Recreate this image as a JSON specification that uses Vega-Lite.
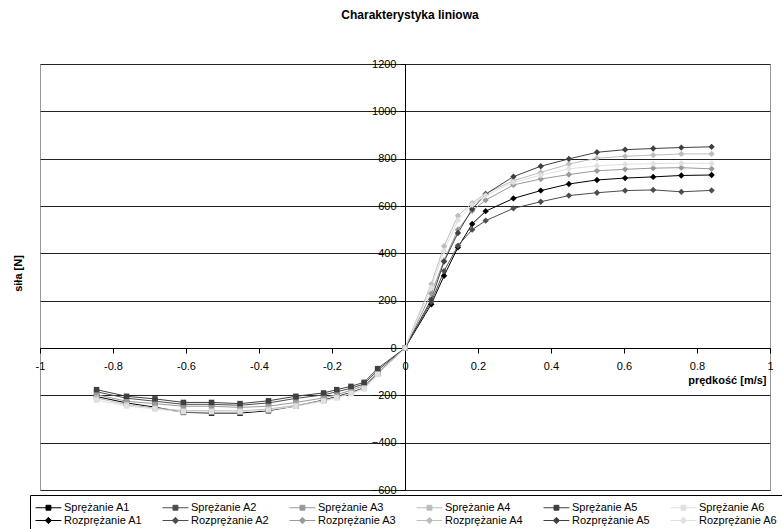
{
  "$schema": "https://vega.github.io/schema/vega-lite/v6.json",
  "width": 730,
  "height": 426,
  "autosize": {"type": "none"},
  "padding": {"left": 40, "top": 64, "right": 12, "bottom": 39},
  "background": "white",
  "title": {"text": "Charakterystyka liniowa", "font": "Liberation Sans", "fontSize": 12, "fontWeight": "bold", "color": "#000", "offset": 36, "dx": 5, "anchor": "middle"},
  "config": {
    "view": {"stroke": "#999", "strokeWidth": 1},
    "font": "Liberation Sans",
    "axis": {"labelFont": "Liberation Sans", "titleFont": "Liberation Sans", "labelColor": "#000", "titleColor": "#000"},
    "legend": {"labelFont": "Liberation Sans", "labelColor": "#000"}
  },
  "data": {"values": [
    {"s":"Sprężanie A1","v":-0.845,"F":-205},{"s":"Sprężanie A1","v":-0.763,"F":-232},{"s":"Sprężanie A1","v":-0.685,"F":-250},{"s":"Sprężanie A1","v":-0.607,"F":-272},{"s":"Sprężanie A1","v":-0.53,"F":-275},{"s":"Sprężanie A1","v":-0.452,"F":-275},{"s":"Sprężanie A1","v":-0.374,"F":-265},{"s":"Sprężanie A1","v":-0.299,"F":-245},{"s":"Sprężanie A1","v":-0.223,"F":-220},{"s":"Sprężanie A1","v":-0.187,"F":-205},{"s":"Sprężanie A1","v":-0.148,"F":-188},{"s":"Sprężanie A1","v":-0.112,"F":-168},{"s":"Sprężanie A1","v":-0.075,"F":-108},{"s":"Sprężanie A1","v":0,"F":0},
    {"s":"Sprężanie A2","v":-0.845,"F":-185},{"s":"Sprężanie A2","v":-0.763,"F":-212},{"s":"Sprężanie A2","v":-0.685,"F":-225},{"s":"Sprężanie A2","v":-0.607,"F":-238},{"s":"Sprężanie A2","v":-0.53,"F":-238},{"s":"Sprężanie A2","v":-0.452,"F":-242},{"s":"Sprężanie A2","v":-0.374,"F":-232},{"s":"Sprężanie A2","v":-0.299,"F":-213},{"s":"Sprężanie A2","v":-0.223,"F":-198},{"s":"Sprężanie A2","v":-0.187,"F":-185},{"s":"Sprężanie A2","v":-0.148,"F":-170},{"s":"Sprężanie A2","v":-0.112,"F":-152},{"s":"Sprężanie A2","v":-0.075,"F":-95},{"s":"Sprężanie A2","v":0,"F":0},
    {"s":"Sprężanie A3","v":-0.845,"F":-197},{"s":"Sprężanie A3","v":-0.763,"F":-225},{"s":"Sprężanie A3","v":-0.685,"F":-235},{"s":"Sprężanie A3","v":-0.607,"F":-246},{"s":"Sprężanie A3","v":-0.53,"F":-246},{"s":"Sprężanie A3","v":-0.452,"F":-251},{"s":"Sprężanie A3","v":-0.374,"F":-246},{"s":"Sprężanie A3","v":-0.299,"F":-230},{"s":"Sprężanie A3","v":-0.223,"F":-211},{"s":"Sprężanie A3","v":-0.187,"F":-197},{"s":"Sprężanie A3","v":-0.148,"F":-179},{"s":"Sprężanie A3","v":-0.112,"F":-159},{"s":"Sprężanie A3","v":-0.075,"F":-105},{"s":"Sprężanie A3","v":0,"F":0},
    {"s":"Sprężanie A4","v":-0.845,"F":-211},{"s":"Sprężanie A4","v":-0.763,"F":-239},{"s":"Sprężanie A4","v":-0.685,"F":-254},{"s":"Sprężanie A4","v":-0.607,"F":-265},{"s":"Sprężanie A4","v":-0.53,"F":-265},{"s":"Sprężanie A4","v":-0.452,"F":-266},{"s":"Sprężanie A4","v":-0.374,"F":-258},{"s":"Sprężanie A4","v":-0.299,"F":-242},{"s":"Sprężanie A4","v":-0.223,"F":-222},{"s":"Sprężanie A4","v":-0.187,"F":-208},{"s":"Sprężanie A4","v":-0.148,"F":-190},{"s":"Sprężanie A4","v":-0.112,"F":-170},{"s":"Sprężanie A4","v":-0.075,"F":-110},{"s":"Sprężanie A4","v":0,"F":0},
    {"s":"Sprężanie A5","v":-0.845,"F":-176},{"s":"Sprężanie A5","v":-0.763,"F":-204},{"s":"Sprężanie A5","v":-0.685,"F":-215},{"s":"Sprężanie A5","v":-0.607,"F":-230},{"s":"Sprężanie A5","v":-0.53,"F":-230},{"s":"Sprężanie A5","v":-0.452,"F":-235},{"s":"Sprężanie A5","v":-0.374,"F":-223},{"s":"Sprężanie A5","v":-0.299,"F":-204},{"s":"Sprężanie A5","v":-0.223,"F":-190},{"s":"Sprężanie A5","v":-0.187,"F":-176},{"s":"Sprężanie A5","v":-0.148,"F":-162},{"s":"Sprężanie A5","v":-0.112,"F":-145},{"s":"Sprężanie A5","v":-0.075,"F":-87},{"s":"Sprężanie A5","v":0,"F":0},
    {"s":"Sprężanie A6","v":-0.845,"F":-220},{"s":"Sprężanie A6","v":-0.763,"F":-245},{"s":"Sprężanie A6","v":-0.685,"F":-258},{"s":"Sprężanie A6","v":-0.607,"F":-270},{"s":"Sprężanie A6","v":-0.53,"F":-270},{"s":"Sprężanie A6","v":-0.452,"F":-270},{"s":"Sprężanie A6","v":-0.374,"F":-262},{"s":"Sprężanie A6","v":-0.299,"F":-246},{"s":"Sprężanie A6","v":-0.223,"F":-225},{"s":"Sprężanie A6","v":-0.187,"F":-211},{"s":"Sprężanie A6","v":-0.148,"F":-193},{"s":"Sprężanie A6","v":-0.112,"F":-173},{"s":"Sprężanie A6","v":-0.075,"F":-112},{"s":"Sprężanie A6","v":0,"F":0},
    {"s":"Rozprężanie A1","v":0,"F":0},{"s":"Rozprężanie A1","v":0.072,"F":185},{"s":"Rozprężanie A1","v":0.107,"F":305},{"s":"Rozprężanie A1","v":0.145,"F":425},{"s":"Rozprężanie A1","v":0.184,"F":524},{"s":"Rozprężanie A1","v":0.221,"F":578},{"s":"Rozprężanie A1","v":0.297,"F":632},{"s":"Rozprężanie A1","v":0.372,"F":665},{"s":"Rozprężanie A1","v":0.449,"F":693},{"s":"Rozprężanie A1","v":0.526,"F":710},{"s":"Rozprężanie A1","v":0.603,"F":718},{"s":"Rozprężanie A1","v":0.68,"F":723},{"s":"Rozprężanie A1","v":0.757,"F":729},{"s":"Rozprężanie A1","v":0.84,"F":731},
    {"s":"Rozprężanie A2","v":0,"F":0},{"s":"Rozprężanie A2","v":0.072,"F":195},{"s":"Rozprężanie A2","v":0.107,"F":325},{"s":"Rozprężanie A2","v":0.145,"F":432},{"s":"Rozprężanie A2","v":0.184,"F":500},{"s":"Rozprężanie A2","v":0.221,"F":538},{"s":"Rozprężanie A2","v":0.297,"F":590},{"s":"Rozprężanie A2","v":0.372,"F":618},{"s":"Rozprężanie A2","v":0.449,"F":644},{"s":"Rozprężanie A2","v":0.526,"F":656},{"s":"Rozprężanie A2","v":0.603,"F":665},{"s":"Rozprężanie A2","v":0.68,"F":668},{"s":"Rozprężanie A2","v":0.757,"F":660},{"s":"Rozprężanie A2","v":0.84,"F":666},
    {"s":"Rozprężanie A3","v":0,"F":0},{"s":"Rozprężanie A3","v":0.072,"F":230},{"s":"Rozprężanie A3","v":0.107,"F":370},{"s":"Rozprężanie A3","v":0.145,"F":500},{"s":"Rozprężanie A3","v":0.184,"F":580},{"s":"Rozprężanie A3","v":0.221,"F":625},{"s":"Rozprężanie A3","v":0.297,"F":689},{"s":"Rozprężanie A3","v":0.372,"F":714},{"s":"Rozprężanie A3","v":0.449,"F":733},{"s":"Rozprężanie A3","v":0.526,"F":749},{"s":"Rozprężanie A3","v":0.603,"F":755},{"s":"Rozprężanie A3","v":0.68,"F":760},{"s":"Rozprężanie A3","v":0.757,"F":762},{"s":"Rozprężanie A3","v":0.84,"F":757},
    {"s":"Rozprężanie A4","v":0,"F":0},{"s":"Rozprężanie A4","v":0.072,"F":270},{"s":"Rozprężanie A4","v":0.107,"F":430},{"s":"Rozprężanie A4","v":0.145,"F":559},{"s":"Rozprężanie A4","v":0.184,"F":612},{"s":"Rozprężanie A4","v":0.221,"F":653},{"s":"Rozprężanie A4","v":0.297,"F":707},{"s":"Rozprężanie A4","v":0.372,"F":742},{"s":"Rozprężanie A4","v":0.449,"F":777},{"s":"Rozprężanie A4","v":0.526,"F":802},{"s":"Rozprężanie A4","v":0.603,"F":810},{"s":"Rozprężanie A4","v":0.68,"F":815},{"s":"Rozprężanie A4","v":0.757,"F":820},{"s":"Rozprężanie A4","v":0.84,"F":820},
    {"s":"Rozprężanie A5","v":0,"F":0},{"s":"Rozprężanie A5","v":0.072,"F":205},{"s":"Rozprężanie A5","v":0.107,"F":365},{"s":"Rozprężanie A5","v":0.145,"F":486},{"s":"Rozprężanie A5","v":0.184,"F":587},{"s":"Rozprężanie A5","v":0.221,"F":650},{"s":"Rozprężanie A5","v":0.297,"F":724},{"s":"Rozprężanie A5","v":0.372,"F":768},{"s":"Rozprężanie A5","v":0.449,"F":799},{"s":"Rozprężanie A5","v":0.526,"F":827},{"s":"Rozprężanie A5","v":0.603,"F":838},{"s":"Rozprężanie A5","v":0.68,"F":843},{"s":"Rozprężanie A5","v":0.757,"F":847},{"s":"Rozprężanie A5","v":0.84,"F":850},
    {"s":"Rozprężanie A6","v":0,"F":0},{"s":"Rozprężanie A6","v":0.072,"F":255},{"s":"Rozprężanie A6","v":0.107,"F":410},{"s":"Rozprężanie A6","v":0.145,"F":540},{"s":"Rozprężanie A6","v":0.184,"F":605},{"s":"Rozprężanie A6","v":0.221,"F":645},{"s":"Rozprężanie A6","v":0.297,"F":700},{"s":"Rozprężanie A6","v":0.372,"F":730},{"s":"Rozprężanie A6","v":0.449,"F":757},{"s":"Rozprężanie A6","v":0.526,"F":770},{"s":"Rozprężanie A6","v":0.603,"F":776},{"s":"Rozprężanie A6","v":0.68,"F":779},{"s":"Rozprężanie A6","v":0.757,"F":781},{"s":"Rozprężanie A6","v":0.84,"F":780}
  ]},
  "encoding": {
    "x": {"field": "v", "type": "quantitative",
      "scale": {"domain": [-1, 1], "nice": false, "zero": false},
      "axis": {"values": [-1, -0.8, -0.6, -0.4, -0.2, 0, 0.2, 0.4, 0.6, 0.8, 1], "offset": -142, "grid": false,
        "domainColor": "#000", "tickColor": "#000", "tickSize": 5, "labelPadding": 7, "labelFontSize": 11,
        "labelFlush": false, "labelOverlap": false,
        "labelExpr": "datum.value < 0 ? '-' + format(-datum.value, '~g') : format(datum.value, '~g')",
        "title": "prędkość [m/s]", "titleX": 726, "titleY": 32, "titleAlign": "right", "titleBaseline": "middle",
        "titleFontWeight": "bold", "titleFontSize": 11}},
    "y": {"field": "F", "type": "quantitative",
      "scale": {"domain": [-600, 1200], "nice": false},
      "axis": {"values": [-600, -400, -200, 0, 200, 400, 600, 800, 1000, 1200], "offset": -365, "grid": true,
        "format": "d",
        "gridColor": "#222", "gridWidth": 1, "gridOpacity": 1,
        "domainColor": "#000", "tickColor": "#000", "tickSize": 5, "labelPadding": 4, "labelFontSize": 11,
        "labelOverlap": false, "labelFlush": false,
        "title": "siła [N]", "titleX": -387, "titleY": 209, "titleAngle": -90, "titleAlign": "center", "titleBaseline": "middle",
        "titleFontWeight": "bold", "titleFontSize": 11}},
    "color": {"field": "s", "type": "nominal",
      "scale": {
        "domain": ["Sprężanie A1", "Sprężanie A2", "Sprężanie A3", "Sprężanie A4", "Sprężanie A5", "Sprężanie A6", "Rozprężanie A1", "Rozprężanie A2", "Rozprężanie A3", "Rozprężanie A4", "Rozprężanie A5", "Rozprężanie A6"],
        "range": ["#000000", "#4d4d4d", "#999999", "#bdbdbd", "#404040", "#e0e0e0", "#000000", "#4d4d4d", "#999999", "#bdbdbd", "#404040", "#e0e0e0"]},
      "legend": {"orient": "none", "legendX": -10, "legendY": 431, "columns": 6, "direction": "horizontal", "title": null,
        "strokeColor": "#000", "fillColor": "white", "padding": 5, "symbolSize": 196, "labelFontSize": 11, "labelOffset": 14,
        "columnPadding": 17, "rowPadding": 0, "gridAlign": "all", "labelLimit": 200, "symbolStrokeWidth": 1,
        "encode": {"symbols": {"update": {
          "shape": {"signal": "indexof(datum.value, 'Sprężanie') == 0 ? 'M-1,0H2.7M0.5,-0.35H1.2V0.35H0.5Z' : 'M-1,0H2.7M0.85,-0.45L1.3,0L0.85,0.45L0.4,0Z'"},
          "fill": {"signal": "scale('color', datum.value)"},
          "stroke": {"signal": "scale('color', datum.value)"},
          "strokeWidth": {"value": 1},
          "opacity": {"value": 1}}}}}}
  },
  "layer": [
    {"mark": {"type": "line", "strokeWidth": 1}},
    {"transform": [{"filter": "indexof(datum.s, 'Sprężanie') == 0"}],
     "mark": {"type": "point", "shape": "square", "filled": true, "size": 30, "opacity": 1}},
    {"transform": [{"filter": "indexof(datum.s, 'Rozprężanie') == 0"}],
     "mark": {"type": "point", "shape": "diamond", "filled": true, "size": 40, "opacity": 1}}
  ]
}
